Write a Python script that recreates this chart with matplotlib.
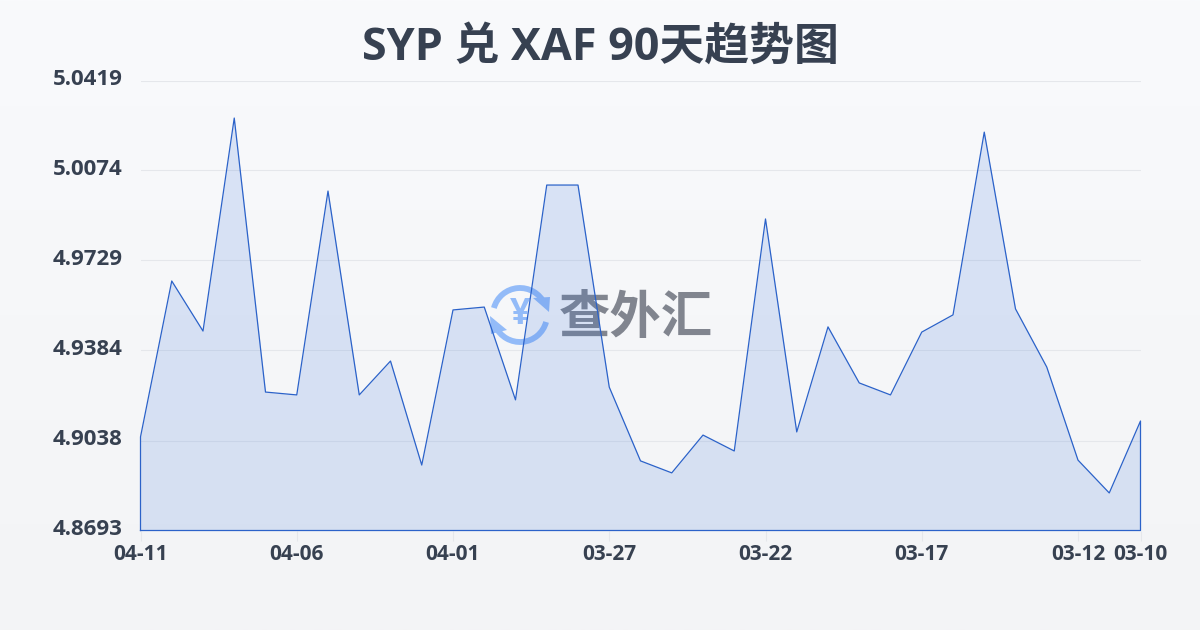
import numpy as np
import matplotlib
matplotlib.use("Agg")
import matplotlib.pyplot as plt
from matplotlib.patches import Arc, Polygon
from matplotlib.transforms import ScaledTranslation

plt.rcParams['font.family'] = ['Open Sans', 'Noto Sans CJK SC', 'DejaVu Sans']

title = "SYP 兑 XAF 90天趋势图"
rates = [4.9052, 4.9650, 4.9458, 5.0275, 4.9224, 4.9213, 4.9995, 4.9213, 4.9343,
         4.8944, 4.9539, 4.9550, 4.9194, 5.0018, 5.0018, 4.9243, 4.8960, 4.8914,
         4.9059, 4.8998, 4.9888, 4.9071, 4.9474, 4.9259, 4.9213, 4.9454, 4.9520,
         5.0221, 4.9543, 4.9320, 4.8963, 4.8837, 4.9113]
y_ticks = [4.8693, 4.9038, 4.9384, 4.9729, 5.0074, 5.0419]
x_ticks = [0, 5, 10, 15, 20, 25, 30, 32]
x_labels = ["04-11", "04-06", "04-01", "03-27", "03-22", "03-17", "03-12", "03-10"]

text_col = "#374151"
line_col = "#2b62c9"

fig = plt.figure(figsize=(12, 6.3), dpi=100)

# background gradient
bg = fig.add_axes([0, 0, 1, 1], zorder=0)
bg.imshow(np.linspace(0, 1, 256).reshape(-1, 1), aspect="auto", extent=[0, 1, 0, 1],
          cmap=matplotlib.colors.LinearSegmentedColormap.from_list("bg", ["#f9fafc", "#f3f4f6"]))
bg.axis("off")

# watermark under the chart, pixel coordinates
wm = fig.add_axes([0, 0, 1, 1], zorder=1)
wm.set_xlim(0, 1200)
wm.set_ylim(0, 630)
wm.axis("off")
logo = "#93bbf8"
wm.add_patch(Arc((520, 315), 54, 54, theta1=25, theta2=165, color=logo, lw=4.2))
wm.add_patch(Arc((520, 315), 54, 54, theta1=205, theta2=345, color=logo, lw=4.2))
wm.add_patch(Polygon([[533, 332], [550, 333], [549, 318]], color=logo, lw=0))
wm.add_patch(Polygon([[490, 314], [507, 300], [491, 296]], color=logo, lw=0))
wm.text(520, 315, "¥", ha="center", va="center", fontsize=26, fontweight="bold", color=logo)
wm.text(636, 312, "查外汇", ha="center", va="center", fontsize=37, fontweight="bold",
        color="#81858f", family=["Noto Sans CJK SC"])

ax = fig.add_axes([140.5 / 1200, 1 - 530.5 / 630, 1000 / 1200, 450 / 630], zorder=2)
ax.patch.set_alpha(0)
x = np.arange(len(rates))
ax.fill_between(x, rates, y_ticks[0], color="#3a73db", alpha=0.16, lw=0, zorder=2)
ax.plot(np.r_[x[0], x, x[-1], x[0]], np.r_[y_ticks[0], rates, y_ticks[0], y_ticks[0]],
        color=line_col, lw=0.9, zorder=3, clip_on=False)
ax.set_xlim(0, 32)
ax.set_ylim(y_ticks[0], y_ticks[-1])
ax.set_yticks(y_ticks)
ax.set_yticklabels([f"{v:.4f}" for v in y_ticks], fontsize=16, fontweight="bold", color=text_col)
ax.set_xticks(x_ticks)
ax.set_xticklabels(x_labels, fontsize=15, fontweight="bold", color=text_col)
ax.tick_params(axis="y", length=0, pad=13)
ax.tick_params(axis="x", length=7, width=0.8, color="#e5e7eb", pad=3)
ax.grid(axis="y", color="#e5e7eb", lw=0.8, zorder=1)
ax.set_axisbelow(True)
for s in ax.spines.values():
    s.set_visible(False)

# y labels sit a bit above their grid lines
up = ScaledTranslation(0, 2.5 / 72, fig.dpi_scale_trans)
for lab in ax.get_yticklabels():
    lab.set_transform(lab.get_transform() + up)

fig.text(600 / 1200, 1 - 48 / 630, title, ha="center", va="center", fontsize=32.3,
         fontweight="bold", color=text_col)

fig.savefig("out.png", dpi=100)
